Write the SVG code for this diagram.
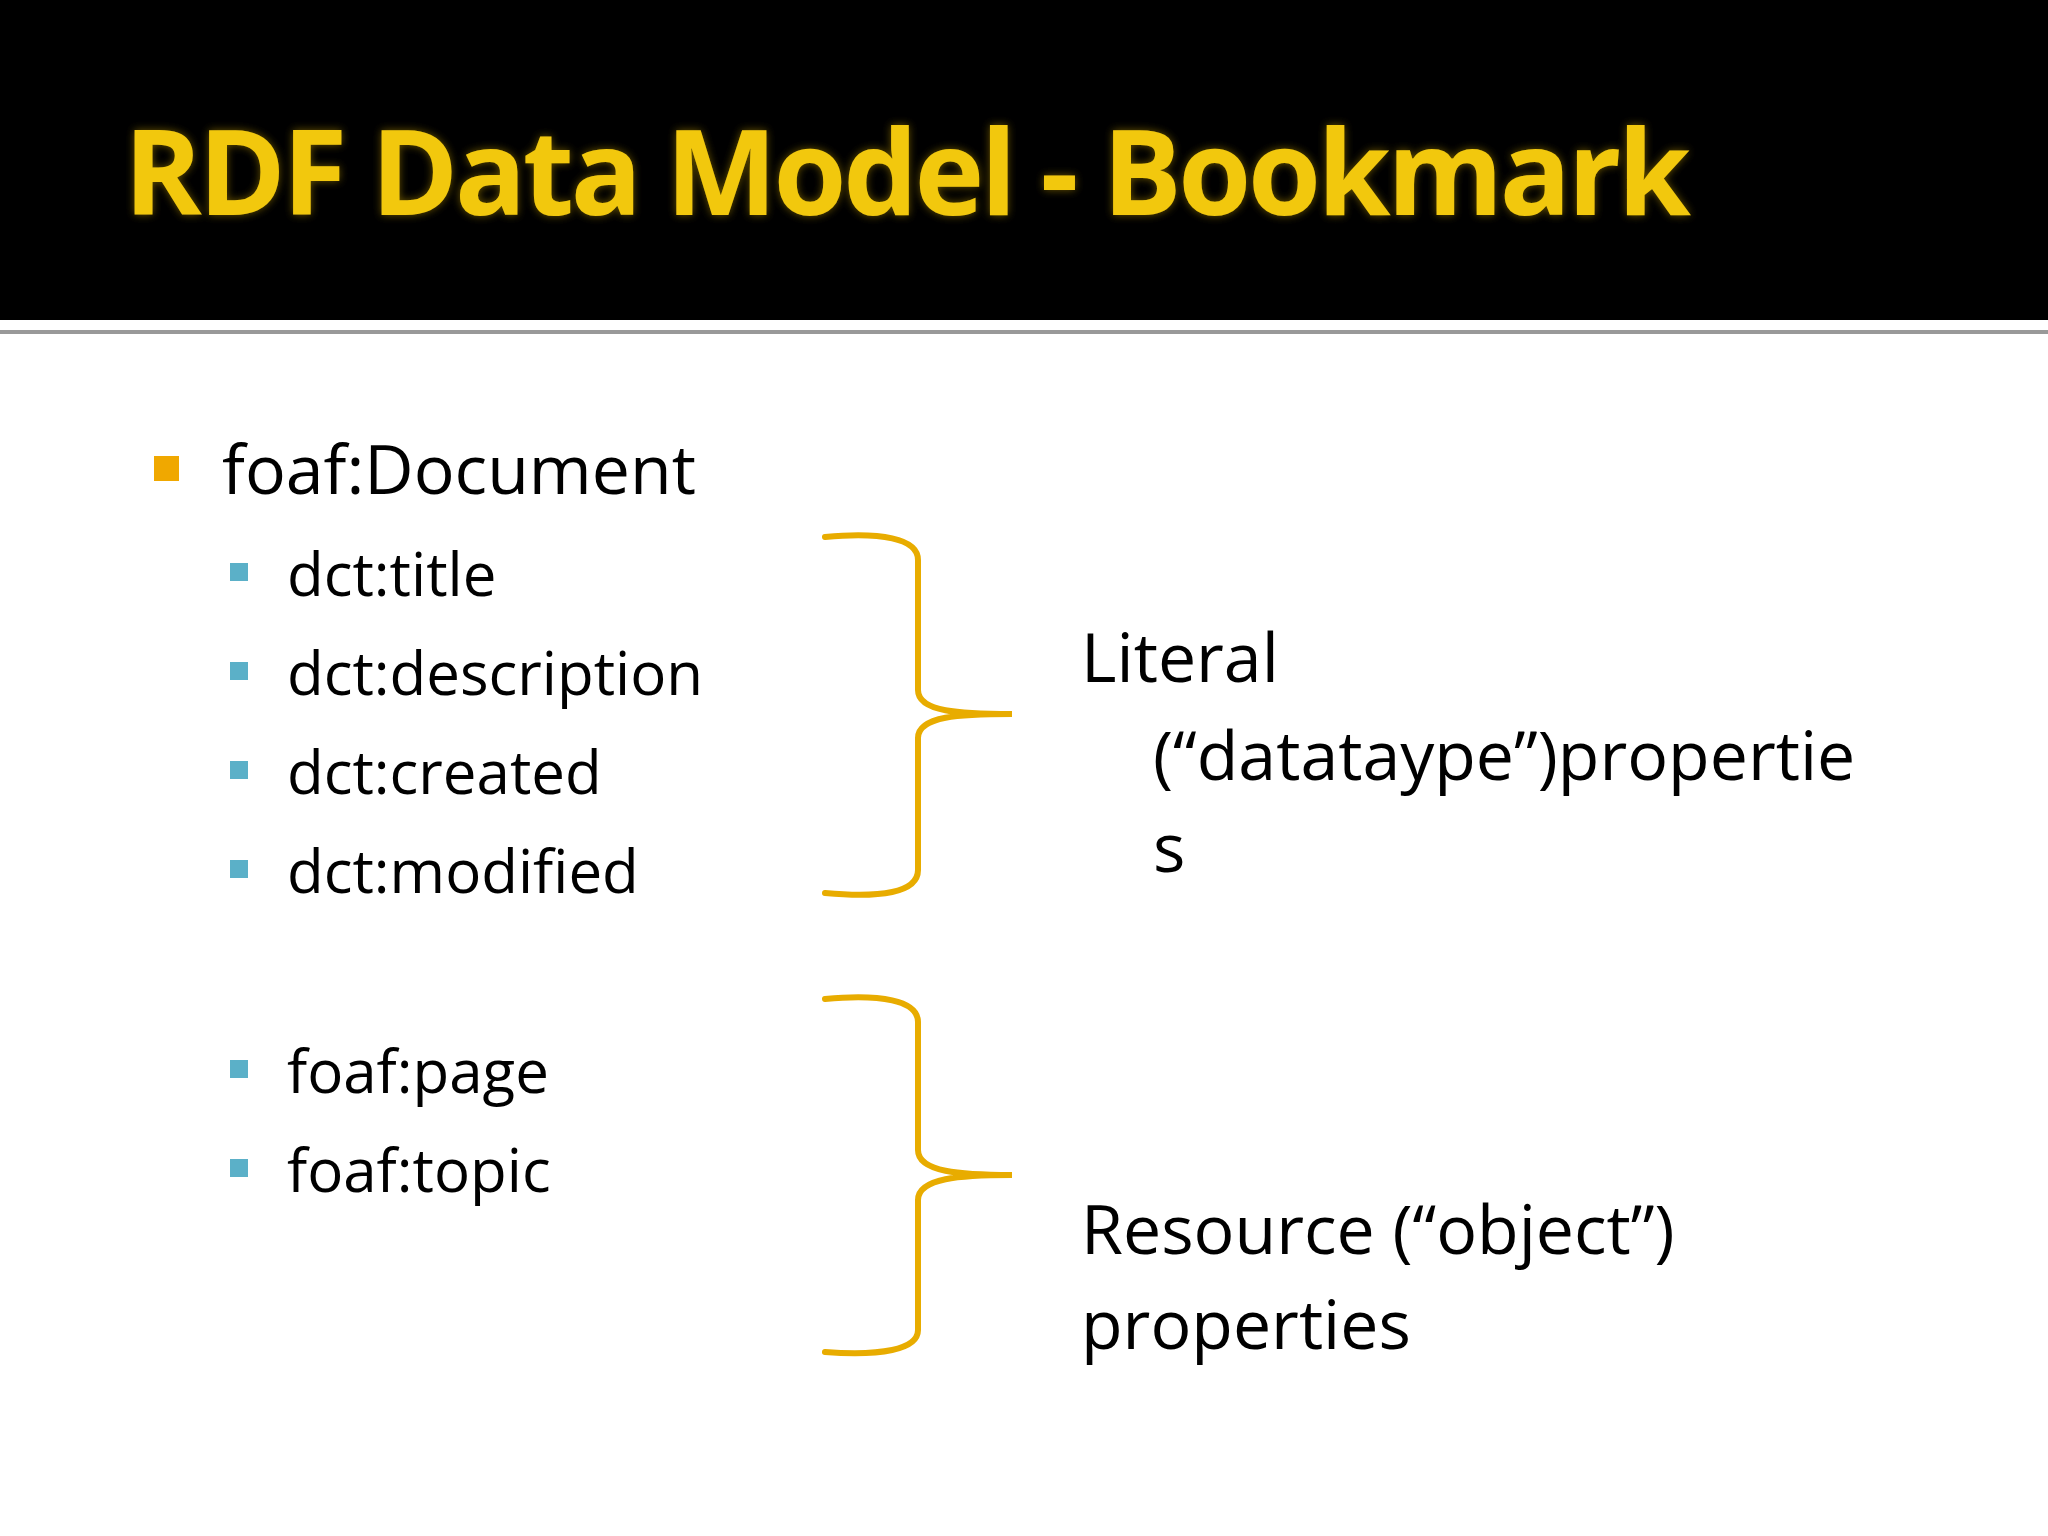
<svg xmlns="http://www.w3.org/2000/svg" width="2048" height="1536" viewBox="0 0 2048 1536">
<defs>
<style>
.t{font-family:"Open Sans","Liberation Sans",sans-serif;fill:#000}
.l1{font-size:68px}
.l2{font-size:60px}
.br{fill:none;stroke:#E8AC00;stroke-width:6;stroke-linecap:round}
</style>
<filter id="glow" x="-5%" y="-20%" width="110%" height="140%"><feGaussianBlur in="SourceAlpha" stdDeviation="4" result="b"/><feFlood flood-color="#6a5400"/><feComposite in2="b" operator="in"/><feMerge><feMergeNode/><feMergeNode in="SourceGraphic"/></feMerge></filter>
</defs>
<rect width="2048" height="1536" fill="#fff"/>
<rect width="2048" height="320" fill="#000"/>
<rect y="330" width="2048" height="4" fill="#999"/>
<text x="124" y="215" filter="url(#glow)" style="font-family:'Open Sans','Liberation Sans',sans-serif;font-weight:bold;font-size:118px;fill:#F2C811" textLength="1567">RDF Data Model - Bookmark</text>
<g id="doc"><rect x="154" y="456" width="25" height="25" fill="#F0A800"/><text class="t l1" x="222" y="494">foaf:Document</text></g>
<g id="items" fill="#5BB0C8">
<rect x="230" y="563" width="18" height="18"/><text class="t l2" x="287" y="596">dct:title</text>
<rect x="230" y="662" width="18" height="18"/><text class="t l2" x="287" y="695">dct:description</text>
<rect x="230" y="761" width="18" height="18"/><text class="t l2" x="287" y="794">dct:created</text>
<rect x="230" y="860" width="18" height="18"/><text class="t l2" x="287" y="893">dct:modified</text>
<rect x="230" y="1060" width="18" height="18"/><text class="t l2" x="287" y="1093">foaf:page</text>
<rect x="230" y="1159" width="18" height="18"/><text class="t l2" x="287" y="1192">foaf:topic</text>
</g>
<g id="connectors">
<path class="br" d="M825,537 C880,532 918,538 918,560 L918,690 C918,712 960,714 1012,714 C960,714 918,716 918,738 L918,870 C918,893 880,898 825,893"/>
<path class="br" d="M825,999 C880,994 918,1000 918,1022 L918,1150 C918,1172 960,1175 1012,1175 C960,1175 918,1178 918,1200 L918,1330 C918,1350 880,1356 825,1352"/>
</g>
<g id="literal"><text class="t l1" x="1081" y="682">Literal</text><text class="t l1" x="1153" y="780">(“datataype”)propertie</text><text class="t l1" x="1153" y="872">s</text></g>
<g id="resource"><text class="t l1" x="1081" y="1254">Resource (“object”)</text><text class="t l1" x="1081" y="1349">properties</text></g>
</svg>
